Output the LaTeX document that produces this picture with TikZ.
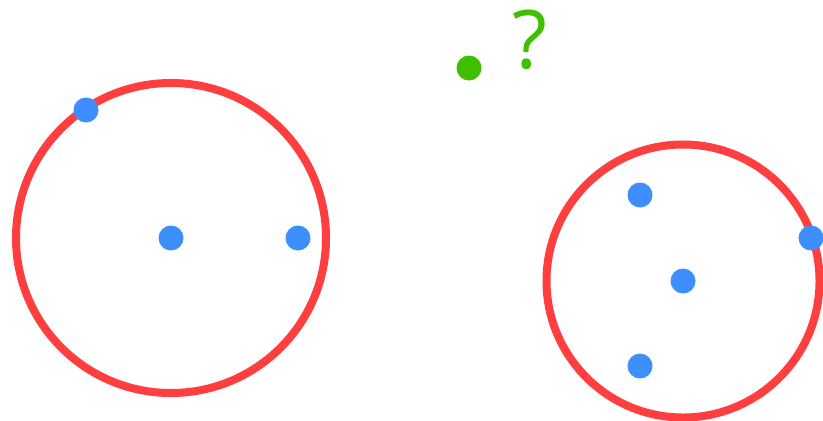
\documentclass[tikz,border=0pt]{standalone}
\usepackage{fontspec}
\setmainfont{Open Sans}
\usepackage{tikz}
\usetikzlibrary{positioning}
\definecolor{ringred}{HTML}{FF3F3F}
\definecolor{ptblue}{HTML}{3D8FFF}
\definecolor{ptgreen}{HTML}{3FBF00}
\tikzset{
  ring/.style={draw=ringred, circle, line width=0.24cm, inner sep=0pt},
  pt/.style={fill=ptblue, circle, inner sep=0pt, minimum size=0.75cm},
  newpt/.style={fill=ptgreen, circle, inner sep=0pt, minimum size=0.75cm},
  qmark/.style={text=ptgreen, inner sep=0pt, anchor=base,
    font=\fontsize{69}{70}\selectfont},
}

\begin{document}
\begin{tikzpicture}[x=0.03cm, y=-0.03cm]
\useasboundingbox (0,0) rectangle (823,420);

%% -- left cluster ---------------------------------------------------------
\node[ring, minimum size=9.3cm] (ringA) at (171,238) {};
\node[pt] (a1) at (86,110) {};
\node[pt] (a2) at (171,238) {};
\node[pt] (a3) at (298,238) {};

%% -- right cluster --------------------------------------------------------
\node[ring, minimum size=8.19cm] (ringB) at (683,281) {};
\node[pt] (b1) at (640,195) {};
\node[pt] (b2) at (683,281) {};
\node[pt] (b3) at (640,366) {};
\node[pt] (b4) at (811,238) {};

%% -- unassigned point -----------------------------------------------------
\node[newpt] (query) at (469,68) {};
\node[qmark] (ask) at (529.5,68) {?};

\end{tikzpicture}
\end{document}
